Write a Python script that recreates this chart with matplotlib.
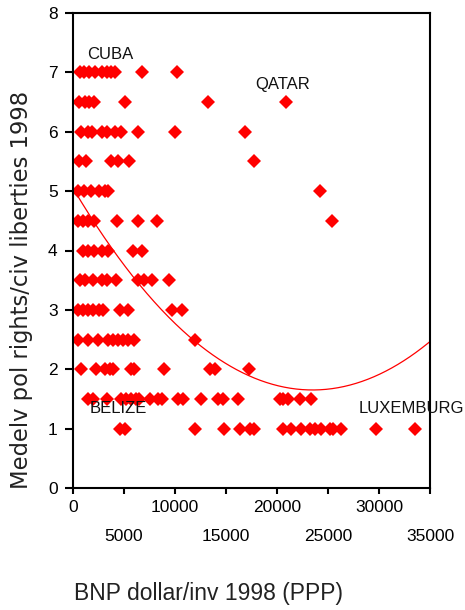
import numpy as np
import matplotlib
matplotlib.use("Agg")
import matplotlib.pyplot as plt

plt.rcParams['font.family'] = ['Liberation Sans', 'DejaVu Sans']

# GNP per capita (PPP dollars) of countries at each rights level
gnp_at_7 = [650, 1100, 1600, 2200, 2800, 3300, 3750, 4100, 6800, 10200]
gnp_at_6_5 = [600, 1150, 1600, 2100, 5100, 13200, 20900]
gnp_at_6 = [800, 1500, 1900, 2800, 3300, 4100, 4700, 6400, 10000, 16900]
gnp_at_5_5 = [600, 1300, 3750, 4400, 5500, 17700]
gnp_at_5 = [500, 1100, 1800, 2500, 3100, 3400, 24200]
gnp_at_4_5 = [500, 1000, 1450, 2100, 4300, 6400, 8200, 25400]
gnp_at_4 = [1000, 1500, 2100, 2800, 3400, 5900, 6800]
gnp_at_3_5 = [650, 1150, 2000, 2800, 3300, 4250, 6400, 7000, 7750, 9400]
gnp_at_3 = [500, 1000, 1500, 2000, 2500, 2900, 4600, 5400, 9700, 10700]
gnp_at_2_5 = [500, 1500, 2450, 3400, 3900, 4400, 4900, 5400, 6000, 12000]
gnp_at_2 = [800, 2300, 3100, 3600, 3900, 5700, 6000, 8900, 13400, 13900, 17300]
gnp_at_1_5 = [1500, 2000, 3300, 4700, 5200, 5700, 6200, 6500, 7500, 8300, 8700,
              10300, 10800, 12500, 14200, 14700, 16200, 20300, 20600, 21100,
              22300, 23300]
gnp_at_1 = [4600, 5100, 12000, 14800, 16400, 17350, 17700, 20600, 21400, 22400,
            23200, 23700, 24300, 25200, 25500, 26300, 29700, 33500]

levels = [7, 6.5, 6, 5.5, 5, 4.5, 4, 3.5, 3, 2.5, 2, 1.5, 1]
groups = [gnp_at_7, gnp_at_6_5, gnp_at_6, gnp_at_5_5, gnp_at_5, gnp_at_4_5,
          gnp_at_4, gnp_at_3_5, gnp_at_3, gnp_at_2_5, gnp_at_2, gnp_at_1_5,
          gnp_at_1]

# quadratic fit line (x in thousands of dollars)
fit_coef = [5.05, -0.2894, 0.00616]

countries = ["CUBA", "QATAR", "BELIZE", "LUXEMBURG"]
country_x = [1400, 17900, 1600, 28000]
country_y = [7.3, 6.8, 1.34, 1.34]

x_ticks = [0, 5000, 10000, 15000, 20000, 25000, 30000, 35000]
y_ticks = [0, 1, 2, 3, 4, 5, 6, 7, 8]

xs = np.concatenate([np.array(g, dtype=float) for g in groups])
ys = np.concatenate([np.full(len(g), lv) for g, lv in zip(groups, levels)])

fig = plt.figure(figsize=(4.65, 6.10), dpi=100)
ax = fig.add_axes([73/465, 122/610, 357/465, 475/610])

ax.plot(xs, ys, linestyle='none', marker='D', markersize=6.8,
        color='#ff0000', markeredgewidth=0)

xf = np.linspace(0, 35000, 300)
yf = fit_coef[0] + fit_coef[1] * (xf / 1000) + fit_coef[2] * (xf / 1000) ** 2
ax.plot(xf, yf, color='#ff0000', linewidth=0.9)

for name, cx, cy in zip(countries, country_x, country_y):
    ax.text(cx, cy, name, fontsize=12, color='#111111', va='center',
            ha='left', clip_on=False)

ax.set_xlim(0, 35000)
ax.set_ylim(0, 8)
ax.set_xticks(x_ticks)
ax.set_yticks(y_ticks)
ax.set_yticklabels([str(v) for v in y_ticks], fontsize=12.5)
ax.set_xticklabels([str(v) for v in x_ticks], fontsize=12.5)
for i, lab in enumerate(ax.get_xticklabels()):
    if i % 2 == 1:
        lab.set_y(-0.06)
ax.tick_params(axis='both', direction='out', width=1.5, color='black')
ax.tick_params(axis='y', length=6, pad=5)
ax.tick_params(axis='x', length=4, pad=5)
for sp in ax.spines.values():
    sp.set_linewidth(1.5)
    sp.set_color('black')

ax.set_xlabel('BNP dollar/inv 1998 (PPP)', fontsize=16.5, color='#222222')
ax.xaxis.set_label_coords(135/357, -(582-488)/475)
ax.set_ylabel('Medelv pol rights/civ liberties 1998', fontsize=16.3,
              color='#222222', family=['DejaVu Sans'])
ax.yaxis.set_label_coords(-(73-33)/357, (488-290)/475)

fig.savefig('out.png', dpi=100, facecolor='white')
